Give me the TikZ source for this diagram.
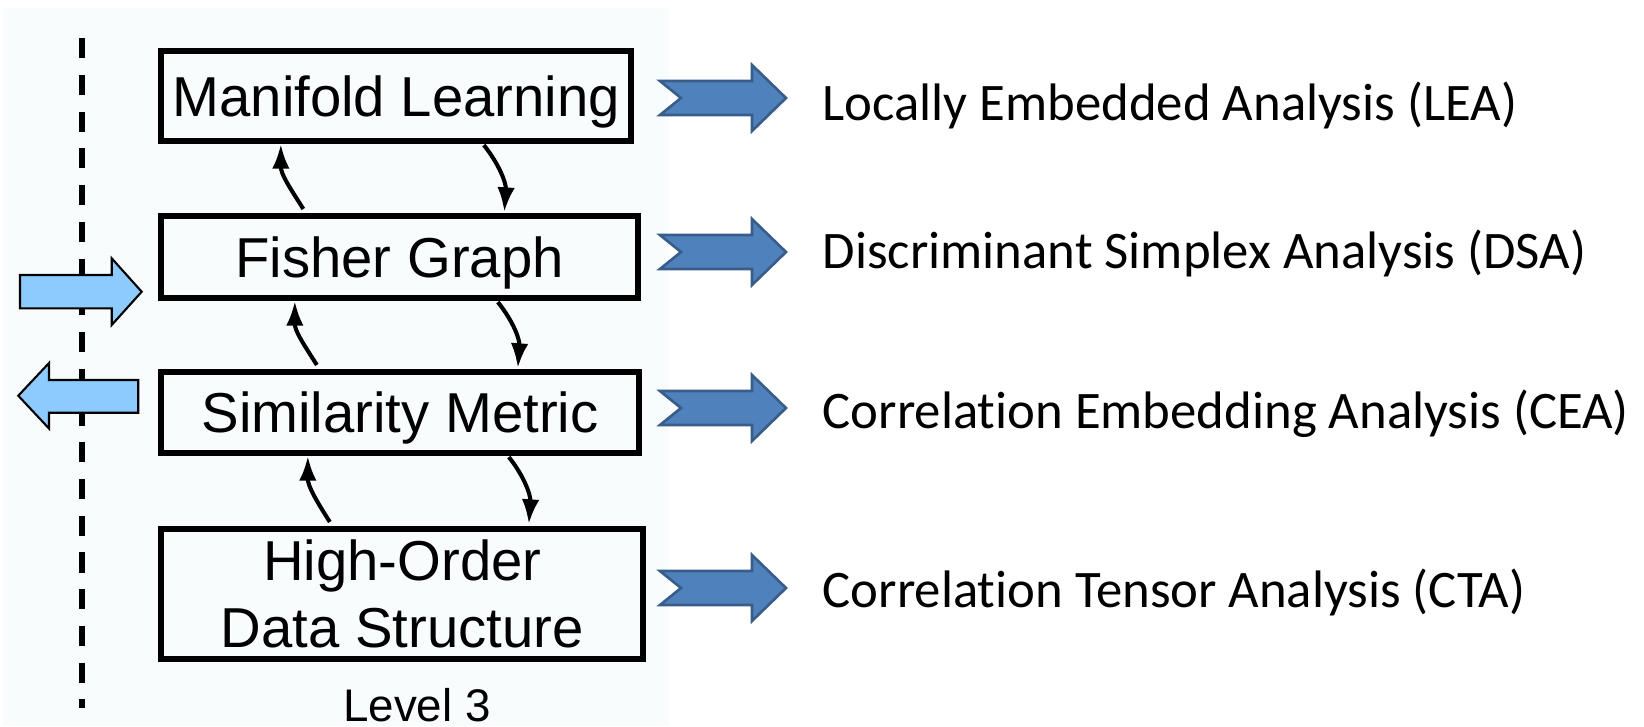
\documentclass[tikz,border=0pt]{standalone}
\usepackage{fontspec}
\newfontfamily\calibfont[Ligatures=NoCommon]{Carlito}
\newfontfamily\arialfont{Liberation Sans}
\usetikzlibrary{arrows.meta,calc}
\definecolor{bgtint}{HTML}{F8FCFD}
\definecolor{lightarrow}{HTML}{8DCBFF}
\definecolor{darkarrowfill}{HTML}{4F81BD}
\definecolor{darkarrowline}{HTML}{385D8A}
\begin{document}
\begin{tikzpicture}[x=0.01cm,y=-0.01cm,
  levelbox/.style={draw=black, line width=1.75pt, inner sep=0pt, align=center,
    font={\arialfont\fontsize{16pt}{19pt}\selectfont}},
  oneline/.style={text height=11.46pt, text depth=0pt},
  cycarrow/.style={line width=1.15pt, -{Latex[length=7pt,width=5pt]}},
  lightshape/.style={fill=lightarrow, draw=black, line width=0.6pt, line join=miter},
  darkshape/.style={fill=darkarrowfill, draw=darkarrowline, line width=0.75pt, line join=miter},
  methodtext/.style={anchor=base west, inner sep=0pt, font={\calibfont\fontsize{15pt}{18pt}\selectfont}},
  dashline/.style={line width=1.45pt, dash pattern=on 5.7pt off 4.75pt}
]
\useasboundingbox (0,0) rectangle (1644,726);
\fill[bgtint] (3,8) rectangle (669,726);

% dashed separator
\coordinate (dtop) at (82,38);
\coordinate (dbot) at (82,708);
\draw[dashline] (dtop) -- (dbot);

% light blue in/out arrows
\draw[lightshape] (20,275) -- (111.7,275) -- (111.7,258.3) -- (141.7,291.7) -- (111.7,325) -- (111.7,308.3) -- (20,308.3) -- cycle;
\draw[lightshape] (138.3,380) -- (49,380) -- (49,363) -- (18.3,395.7) -- (49,428.5) -- (49,412.7) -- (138.3,412.7) -- cycle;

% level boxes
\node[levelbox, oneline, minimum width=4.694cm, minimum height=0.899cm] (ml) at (396.25,96) {Manifold Learning};
\node[levelbox, oneline, minimum width=4.76cm, minimum height=0.819cm] (fg) at (399.55,257) {Fisher Graph};
\node[levelbox, oneline, minimum width=4.769cm, minimum height=0.809cm] (sm) at (400,412.5) {Similarity Metric};
\node[levelbox, minimum width=4.814cm, minimum height=1.299cm] (ho) at (402.25,594) {High-Order\\Data Structure};
\node[anchor=base, inner sep=0pt, font={\arialfont\fontsize{13pt}{15.6pt}\selectfont}] (lvl) at (417,721) {Level 3};

% cycle arrows between levels
\draw[cycarrow] ($(fg.north west)+(145,-4)$) .. controls +(-14,-22) and +(0,30) .. ($(ml.south west)+(122.5,0)$);
\draw[cycarrow] ($(ml.south west)+(325.5,1)$) .. controls +(16,20) and +(2,-28) .. ($(fg.north west)+(346,-1)$);
\draw[cycarrow] ($(sm.north west)+(158.5,-4)$) .. controls +(-14,-22) and +(0,30) .. ($(fg.south west)+(136.5,0)$);
\draw[cycarrow] ($(fg.south west)+(339.5,1)$) .. controls +(16,20) and +(2,-28) .. ($(sm.north west)+(359.5,-1)$);
\draw[cycarrow] ($(ho.north west)+(171.5,-4)$) .. controls +(-14,-22) and +(0,30) .. ($(sm.south west)+(149.5,0)$);
\draw[cycarrow] ($(sm.south west)+(350.5,1)$) .. controls +(16,20) and +(2,-28) .. ($(ho.north west)+(370.5,-2)$);

% dark blue notched arrows
\foreach \c in {98,252,408,588}{
  \draw[darkshape] (660,{\c-17}) -- (752,{\c-17}) -- (752,{\c-33}) -- (786,\c) -- (752,{\c+33}) -- (752,{\c+17}) -- (660,{\c+17}) -- (681,\c) -- cycle;
}

% method labels
\node[methodtext] (lea) at (822,120) {Locally Embedded Analysis (LEA)};
\node[methodtext] (dsa) at (822,268) {Discriminant Simplex Analysis (DSA)};
\node[methodtext] (cea) at (822,428) {Correlation Embedding Analysis (CEA)};
\node[methodtext] (cta) at (822,607) {Correlation Tensor Analysis (CTA)};
\end{tikzpicture}
\end{document}
